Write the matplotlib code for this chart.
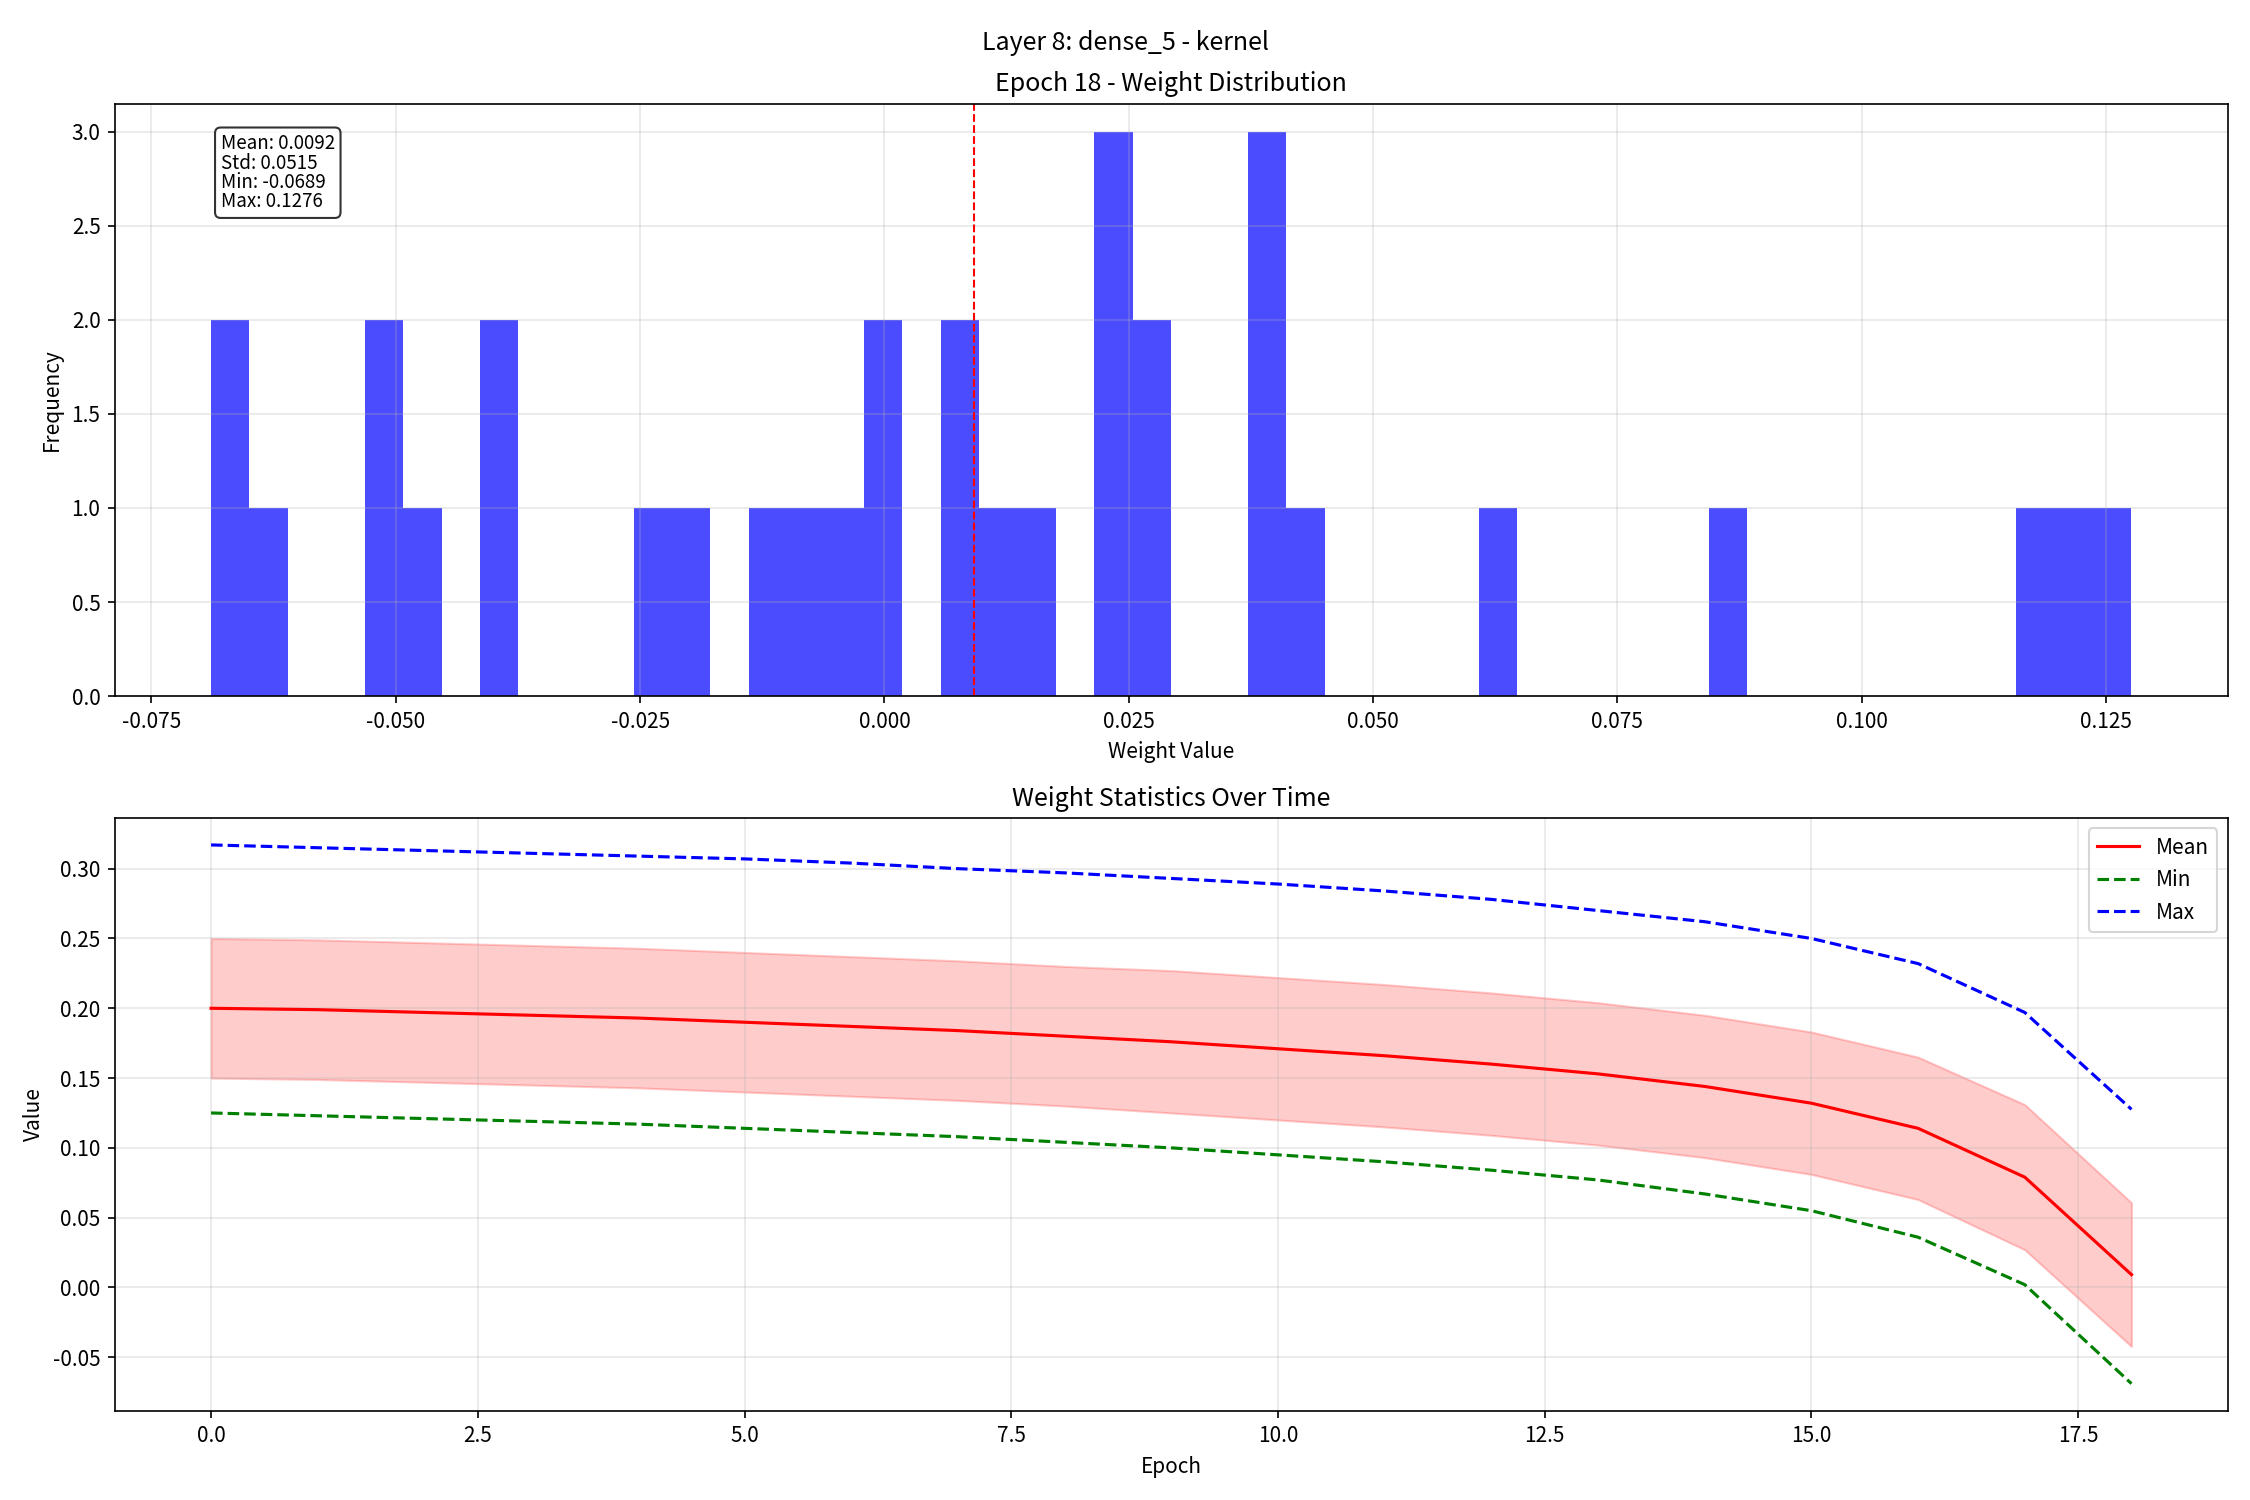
import matplotlib
matplotlib.use("Agg")
import matplotlib.pyplot as plt
import numpy as np

plt.rcParams['font.family'] = ['Noto Sans CJK SC', 'DejaVu Sans']
plt.rcParams['axes.unicode_minus'] = False

# histogram of the last epoch (50 bins between min and max)
w_min, w_max = -0.0689, 0.1276
bin_counts = [2, 1, 0, 0, 2, 1, 0, 2, 0, 0, 0, 1, 1, 0, 1, 1, 1, 2, 0, 2,
              1, 1, 0, 3, 2, 0, 0, 3, 1, 0, 0, 0, 0, 1, 0, 0, 0, 0, 0, 1,
              0, 0, 0, 0, 0, 0, 0, 1, 1, 1]
w_mean, w_std = 0.0092, 0.0515

epochs = list(range(19))
mean_vals = [0.200, 0.199, 0.197, 0.195, 0.193, 0.190, 0.187, 0.184, 0.180, 0.176,
             0.171, 0.166, 0.160, 0.153, 0.144, 0.132, 0.114, 0.079, 0.0092]
std_vals = [0.050, 0.050, 0.050, 0.050, 0.050, 0.050, 0.050, 0.050, 0.050, 0.051,
            0.051, 0.051, 0.051, 0.051, 0.051, 0.051, 0.051, 0.052, 0.0515]
min_vals = [0.125, 0.123, 0.121, 0.119, 0.117, 0.114, 0.111, 0.108, 0.104, 0.100,
            0.095, 0.090, 0.084, 0.077, 0.067, 0.055, 0.036, 0.002, -0.0689]
max_vals = [0.317, 0.315, 0.313, 0.311, 0.309, 0.307, 0.304, 0.300, 0.297, 0.293,
            0.289, 0.284, 0.278, 0.270, 0.262, 0.250, 0.232, 0.197, 0.1276]

fig, (ax1, ax2) = plt.subplots(2, 1, figsize=(15, 10), dpi=150)
fig.suptitle("Layer 8: dense_5 - kernel", fontsize=12)

edges = np.linspace(w_min, w_max, len(bin_counts) + 1)
centers = (edges[:-1] + edges[1:]) / 2
ax1.hist(centers, bins=edges, weights=bin_counts, color='blue', alpha=0.7)
ax1.axvline(w_mean, color='red', linestyle='--', linewidth=1)
ax1.set_title("Epoch 18 - Weight Distribution")
ax1.set_xlabel("Weight Value")
ax1.set_ylabel("Frequency")
ax1.grid(True, alpha=0.3)
ax1.text(0.05, 0.95, f"Mean: {w_mean:.4f}\nStd: {w_std:.4f}\nMin: {w_min:.4f}\nMax: {w_max:.4f}",
         transform=ax1.transAxes, va='top', fontsize=9, linespacing=0.9,
         bbox=dict(boxstyle='round', facecolor='white', alpha=0.8))

m = np.array(mean_vals)
s = np.array(std_vals)
ax2.plot(epochs, mean_vals, 'r-', label='Mean')
ax2.fill_between(epochs, m - s, m + s, color='red', alpha=0.2)
ax2.plot(epochs, min_vals, 'g--', label='Min')
ax2.plot(epochs, max_vals, 'b--', label='Max')
ax2.set_title("Weight Statistics Over Time")
ax2.set_xlabel("Epoch")
ax2.set_ylabel("Value")
ax2.legend()
ax2.grid(True, alpha=0.3)

plt.tight_layout()
plt.savefig("out.png")
